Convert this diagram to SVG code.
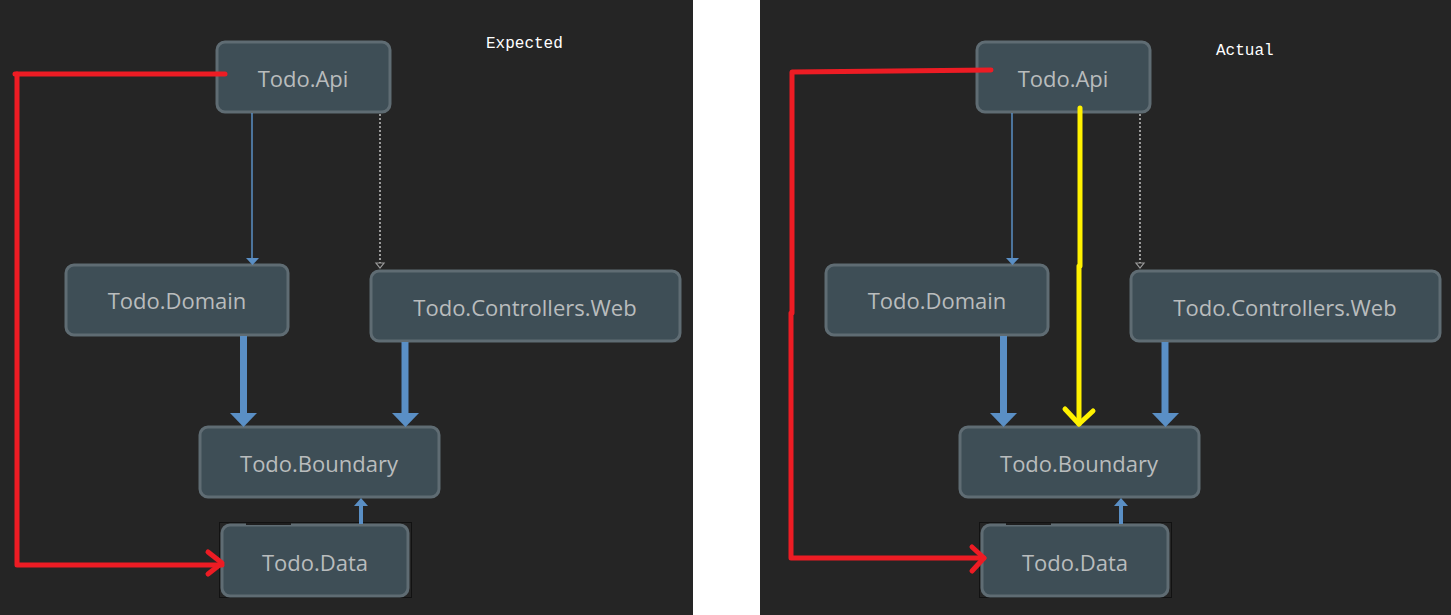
<svg xmlns="http://www.w3.org/2000/svg" width="1451" height="615" viewBox="0 0 1451 615">
<style>
.node rect.box{fill:#3e4e56;stroke:#5f6c73;stroke-width:3}
.node text{font-family:"Open Sans","Noto Sans",sans-serif;font-size:22px;fill:#b9bcbd;text-anchor:middle}
.lbl{font-family:"Liberation Mono",monospace;font-size:16px;fill:#ffffff}
.thin{stroke:#5a8fc5;stroke-width:1.5;fill:none}
.thick{stroke:#5a8fc5;stroke-width:7;fill:none}
.dot{stroke:#9a9a9a;stroke-width:2;stroke-dasharray:2 2;fill:none}
.red{stroke:#ed1c24;stroke-width:5;fill:none;stroke-linecap:round;stroke-linejoin:round}
.yel{stroke:#fff200;stroke-width:5;fill:none;stroke-linecap:round;stroke-linejoin:round}
.blue{fill:#5a8fc5}
</style>
<rect x="0" y="0" width="1451" height="615" fill="#ffffff"/>
<rect x="0" y="0" width="693" height="615" fill="#252525"/>
<rect x="760" y="0" width="691" height="615" fill="#252525"/>
<text class="lbl" x="486" y="48">Expected</text>
<text class="lbl" x="1216" y="55">Actual</text>

<g id="left-nodes">
<g id="l-api" class="node"><rect class="box" x="217" y="42" width="173" height="70" rx="8"/><text x="303" y="87">Todo.Api</text></g>
<g id="l-domain" class="node"><rect class="box" x="66" y="265" width="222" height="70" rx="8"/><text x="177" y="309">Todo.Domain</text></g>
<g id="l-web" class="node"><rect class="box" x="371" y="271" width="309" height="70" rx="8"/><text x="525" y="316">Todo.Controllers.Web</text></g>
<g id="l-boundary" class="node"><rect class="box" x="200" y="427" width="239" height="70" rx="8"/><text x="319" y="472">Todo.Boundary</text></g>
<g id="l-data" class="node"><rect x="219.5" y="522.5" width="192" height="75" fill="none" stroke="#000" stroke-width="1" stroke-dasharray="1 1"/><rect class="box" x="222" y="525" width="186" height="71" rx="8"/><text x="315" y="571">Todo.Data</text></g>
</g>

<g id="right-nodes">
<g id="r-api" class="node"><rect class="box" x="977" y="42" width="173" height="70" rx="8"/><text x="1063" y="87">Todo.Api</text></g>
<g id="r-domain" class="node"><rect class="box" x="826" y="265" width="222" height="70" rx="8"/><text x="937" y="309">Todo.Domain</text></g>
<g id="r-web" class="node"><rect class="box" x="1131" y="271" width="309" height="70" rx="8"/><text x="1285" y="316">Todo.Controllers.Web</text></g>
<g id="r-boundary" class="node"><rect class="box" x="960" y="427" width="239" height="70" rx="8"/><text x="1079" y="472">Todo.Boundary</text></g>
<g id="r-data" class="node"><rect x="979.5" y="522.5" width="192" height="75" fill="none" stroke="#000" stroke-width="1" stroke-dasharray="1 1"/><rect class="box" x="982" y="525" width="186" height="71" rx="8"/><text x="1075" y="571">Todo.Data</text></g>
</g>

<g id="connectors">
<!-- left -->
<line class="thin" x1="252" y1="113" x2="252" y2="259"/>
<polygon class="blue" points="246,258 259,258 252.5,265"/>
<line class="dot" x1="380" y1="114" x2="380" y2="263"/>
<polygon points="376,263 384,263 380,268" fill="none" stroke="#9a9a9a" stroke-width="1.2"/>
<line class="thick" x1="243.5" y1="336" x2="243.5" y2="414"/>
<polygon class="blue" points="230,413 257,413 243.5,427"/>
<line class="thick" x1="405" y1="342" x2="405" y2="414"/>
<polygon class="blue" points="392,413 419,413 405.5,427"/>
<line stroke="#5a8fc5" stroke-width="4" x1="361" y1="505" x2="361" y2="524"/>
<polygon class="blue" points="354,506 368,506 361,498"/>
<line stroke="#1e1e1e" stroke-width="2" x1="246" y1="524" x2="291" y2="524"/>
<!-- right -->
<line class="thin" x1="1012" y1="113" x2="1012" y2="259"/>
<polygon class="blue" points="1006,258 1019,258 1012.5,265"/>
<line class="dot" x1="1140" y1="114" x2="1140" y2="263"/>
<polygon points="1136,263 1144,263 1140,268" fill="none" stroke="#9a9a9a" stroke-width="1.2"/>
<line class="thick" x1="1003.5" y1="336" x2="1003.5" y2="414"/>
<polygon class="blue" points="990,413 1017,413 1003.5,427"/>
<line class="thick" x1="1165" y1="342" x2="1165" y2="414"/>
<polygon class="blue" points="1152,413 1179,413 1165.5,427"/>
<line stroke="#5a8fc5" stroke-width="4" x1="1121" y1="505" x2="1121" y2="524"/>
<polygon class="blue" points="1114,506 1128,506 1121,498"/>
<line stroke="#1e1e1e" stroke-width="2" x1="1006" y1="524" x2="1051" y2="524"/>
</g>

<g id="annotations">
<polyline class="red" points="225,74 15,74"/>
<polyline class="red" points="17,74 17,565 222,565"/>
<polyline class="red" points="208,552 222,563 208,574"/>
<polyline class="red" points="991,70 893,71 792,72 792,313 791,313 791,558 984,558"/>
<polyline class="red" points="972,547 984,558 972,571"/>
<polyline class="yel" points="1080,108 1080,266 1079,266 1079,424"/>
<polyline class="yel" points="1065,409 1079,424 1093,411"/>
</g>
</svg>
